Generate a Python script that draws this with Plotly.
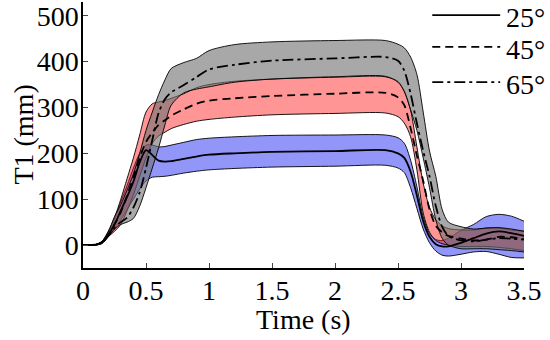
import plotly.graph_objects as go

time_s = [0, 0.1, 0.15, 0.2, 0.25, 0.3, 0.35, 0.4, 0.45, 0.5, 0.55, 0.6, 0.65, 0.7, 0.8, 0.9, 1.0, 1.2, 1.5, 2.0,
          2.4, 2.5, 2.55, 2.6, 2.65, 2.7, 2.75, 2.8, 2.85, 2.9, 3.0, 3.1, 3.2, 3.3, 3.4, 3.5]

mean_25 = [0, 1, 6, 22, 45, 75, 105, 138, 180, 207, 196, 184, 182, 183, 188, 193, 197, 200, 203, 205,
           207, 200, 190, 160, 108, 52, 18, 2, -3, -3, 5, 15, 25, 30, 26, 20]
upper_25 = [0, 1, 7, 25, 55, 95, 130, 168, 200, 218, 218, 214, 215, 218, 224, 230, 233, 236, 239, 240,
            240, 234, 222, 185, 127, 62, 25, 12, 10, 15, 32, 45, 62, 67, 63, 52]
lower_25 = [0, 0, 4, 18, 35, 55, 78, 100, 122, 140, 148, 149, 150, 152, 157, 161, 164, 167, 170, 172,
            174, 168, 158, 125, 80, 35, 5, -13, -22, -24, -20, -15, -14, -20, -27, -28]

mean_45 = [0, 1, 6, 22, 45, 72, 108, 148, 190, 225, 245, 262, 272, 282, 296, 308, 315, 320, 325, 330,
           332, 322, 305, 255, 195, 140, 78, 42, 28, 20, 14, 10, 12, 18, 17, 13]
upper_45 = [0, 1, 8, 30, 60, 100, 145, 190, 240, 290, 308, 312, 315, 320, 330, 343, 350, 357, 362, 366,
            367, 357, 335, 294, 214, 135, 82, 55, 42, 36, 33, 33, 37, 37, 33, 30]
lower_45 = [0, 0, 4, 18, 30, 45, 75, 110, 150, 190, 222, 238, 246, 254, 263, 270, 274, 279, 284, 287,
            288, 280, 266, 236, 164, 70, 28, 10, 3, 0, -3, -3, -3, -5, -8, -12]

mean_65 = [0, 1, 5, 20, 38, 50, 60, 82, 115, 168, 229, 288, 318, 333, 349, 366, 383, 393, 402, 407,
           410, 402, 380, 330, 265, 205, 150, 85, 40, 20, 10, 8, 12, 15, 14, 12]
upper_65 = [0, 1, 8, 28, 62, 88, 120, 155, 200, 250, 290, 328, 360, 385, 398, 407, 424, 437, 443, 446,
            446, 438, 430, 410, 372, 290, 205, 150, 78, 50, 40, 35, 37, 38, 35, 30]
lower_65 = [0, 0, 3, 18, 35, 45, 50, 58, 85, 125, 168, 212, 262, 305, 332, 340, 345, 355, 362, 367,
            368, 355, 335, 295, 250, 190, 125, 55, 15, 0, -8, -8, -8, -10, -12, -15]

labels = ["25°", "45°", "65°"]
x_ticks = [0, 0.5, 1, 1.5, 2, 2.5, 3, 3.5]
x_tick_text = ["0", "0.5", "1", "1.5", "2", "2.5", "3", "3.5"]
y_ticks = [0, 100, 200, 300, 400, 500]

FONT = "Liberation Serif"
FS = 28
fig = go.Figure()

bands = [
    (upper_25, lower_25, "rgba(30,40,240,0.49)"),
    (upper_45, lower_45, "rgba(255,20,20,0.45)"),
    (upper_65, lower_65, "rgba(115,115,115,0.62)"),
]
for up, lo, col in bands:
    fig.add_trace(go.Scatter(x=time_s, y=up, mode="lines", line=dict(color="black", width=0.9, shape="spline", smoothing=0.8),
                             showlegend=False, hoverinfo="skip"))
    fig.add_trace(go.Scatter(x=time_s, y=lo, mode="lines", fill="tonexty", fillcolor=col,
                             line=dict(color="black", width=0.9, shape="spline", smoothing=0.8),
                             showlegend=False, hoverinfo="skip"))

dashes = ["solid", "8px,5px", "11px,4px,3px,4px"]
means = [mean_25, mean_45, mean_65]
for m, dash, lab in zip(means, dashes, labels):
    fig.add_trace(go.Scatter(x=time_s, y=m, mode="lines", name=lab, showlegend=False,
                             line=dict(color="black", width=1.8, dash=dash, shape="spline", smoothing=0.8)))

# legend drawn as layout decorations (paper coordinates)
leg_line_y = [0.951, 0.831, 0.699]
leg_text_y = [0.940, 0.820, 0.690]
for lab, dash, ly, ty in zip(labels, dashes, leg_line_y, leg_text_y):
    fig.add_shape(type="line", xref="paper", yref="paper", x0=0.792, x1=0.946, y0=ly, y1=ly,
                  line=dict(color="black", width=1.8, dash=dash))
    fig.add_annotation(text=lab, xref="paper", yref="paper", x=0.955, y=ty, xanchor="left",
                       yanchor="middle", showarrow=False, font=dict(family=FONT, size=FS))

fig.update_layout(
    width=550, height=340,
    margin=dict(l=83, r=26, t=2, b=72, autoexpand=False),
    paper_bgcolor="white", plot_bgcolor="white",
    font=dict(family=FONT, size=FS, color="black"),
    showlegend=False,
)
fig.update_xaxes(range=[0, 3.5], tickvals=x_ticks, ticktext=x_tick_text, ticks="inside", ticklen=5,
                 tickwidth=1.2, showline=True, linecolor="black", linewidth=1.5, showgrid=False,
                 zeroline=False, tickfont=dict(family=FONT, size=FS), ticklabelstandoff=-3)
fig.update_yaxes(range=[-50, 530], tickvals=y_ticks, ticks="inside", ticklen=5, tickwidth=1.2,
                 showline=True, linecolor="black", linewidth=1.5, showgrid=False, zeroline=False,
                 tickfont=dict(family=FONT, size=FS), ticklabelstandoff=-3)
fig.add_annotation(text="Time (s)", xref="paper", yref="paper", x=0.5, y=-0.192, yanchor="middle",
                   showarrow=False, font=dict(family=FONT, size=FS))
fig.add_annotation(text="T1 (mm)", xref="paper", yref="paper", x=-0.137, y=0.5, textangle=-90,
                   xanchor="center", yanchor="middle", showarrow=False, font=dict(family=FONT, size=FS))
fig.write_html("out.html", config={"displayModeBar": False},
               post_script="document.body.style.margin='0px';")
